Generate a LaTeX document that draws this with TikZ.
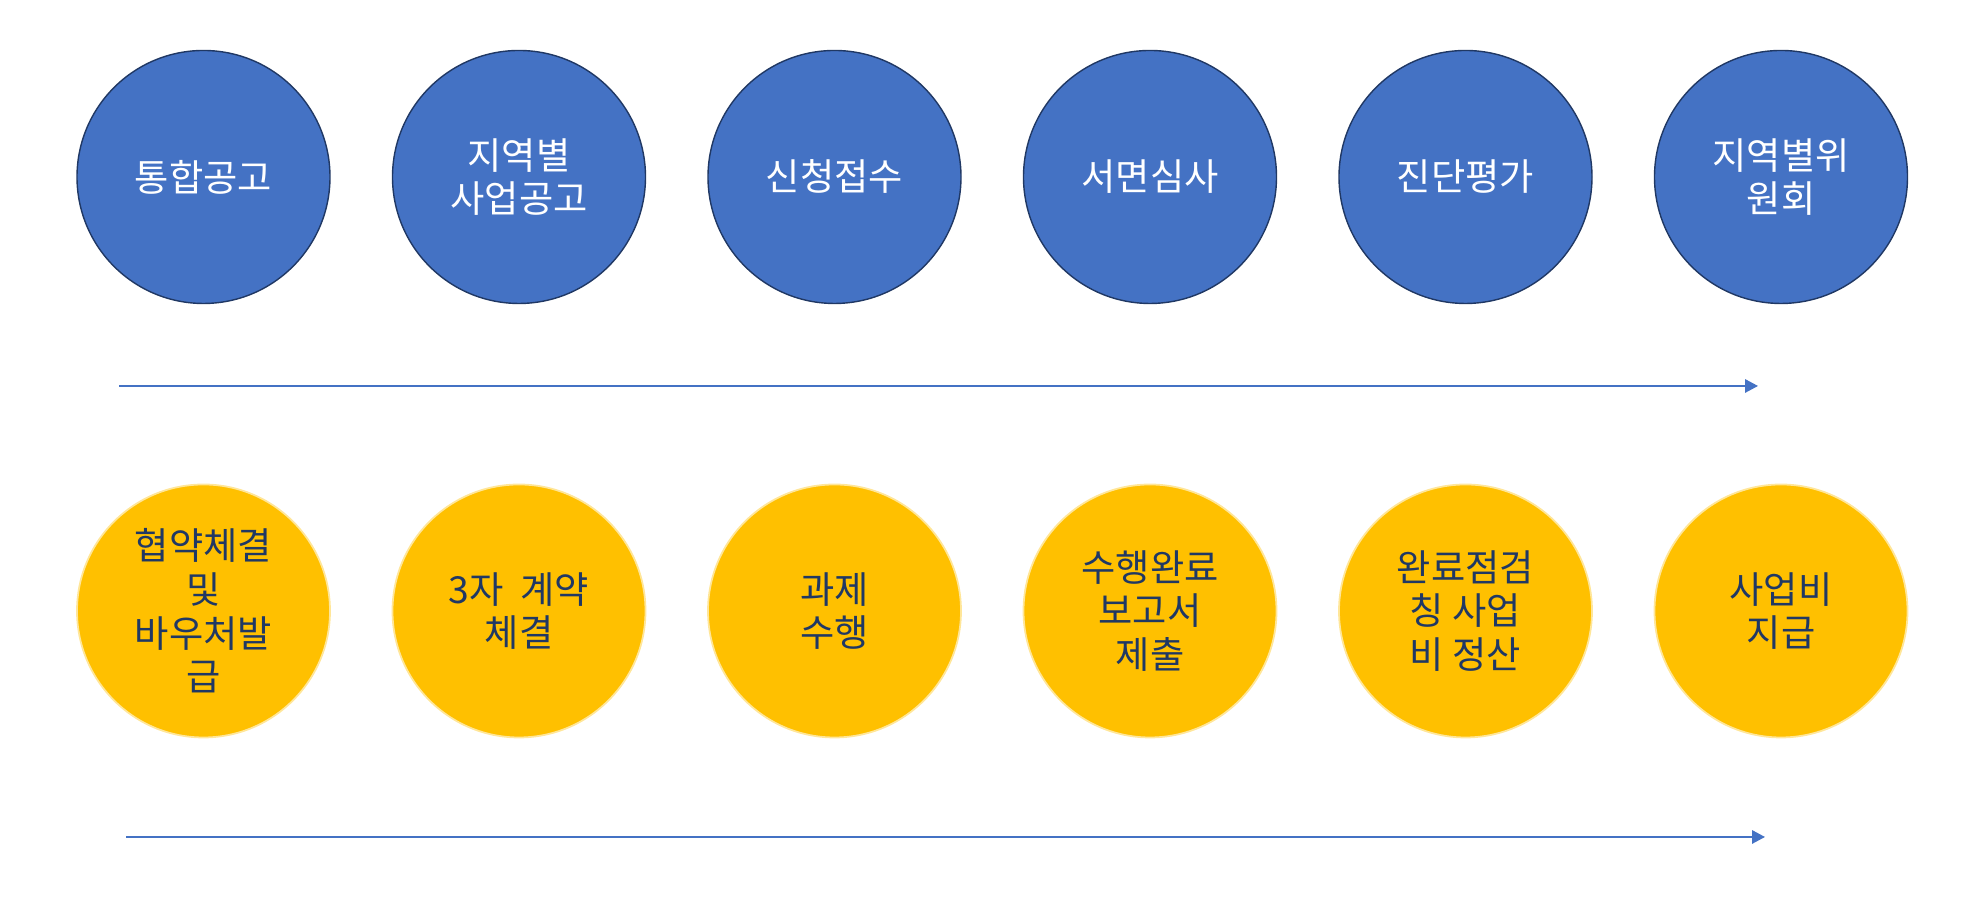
\documentclass[tikz,border=0pt]{standalone}
\usepackage{fontspec}
\setmainfont{Noto Sans CJK KR}
\usepackage{xcolor}
\usetikzlibrary{arrows.meta,positioning}
\definecolor{stepblue}{RGB}{68,114,196}
\definecolor{stepline}{RGB}{32,56,100}
\definecolor{stepgold}{RGB}{255,192,0}
\definecolor{goldline}{RGB}{255,230,153}
\definecolor{goldtext}{RGB}{32,56,100}

\begin{document}
\begin{tikzpicture}[
  every node/.style={font=\fontsize{10.6}{12.4}\selectfont},
  apply/.style={circle,draw=stepline,fill=stepblue,line width=0.4pt,minimum size=2.53cm,inner sep=0pt,align=center,text=white},
  run/.style={circle,draw=goldline,fill=stepgold,line width=0.5pt,minimum size=2.53cm,inner sep=0pt,align=center,text=goldtext},
  ar/.style={-{Triangle[length=1.3mm,width=1.35mm]},stepblue,line width=0.45pt}]
\useasboundingbox (0,0) rectangle (19.82,9.22);
\node[apply] (a1) at (2.035,7.45) {통합공고};
\node[apply] (a2) at (5.19,7.45) {지역별\\사업공고};
\node[apply] (a3) at (8.345,7.45) {신청접수};
\node[apply] (a4) at (11.50,7.45) {서면심사};
\node[apply] (a5) at (14.655,7.45) {진단평가};
\node[apply] (a6) at (17.81,7.45) {지역별위\\원회};
\coordinate (s1) at (1.19,5.36);
\coordinate (e1) at (17.58,5.36);
\draw[ar] (s1) -- (e1);
\node[run] (b1) at (2.035,3.11) {협약체결\\및\\바우처발\\급};
\node[run] (b2) at (5.19,3.11) {3자\ \ 계약\\체결};
\node[run] (b3) at (8.345,3.11) {과제\\수행};
\node[run] (b4) at (11.50,3.11) {수행완료\\보고서\\제출};
\node[run] (b5) at (14.655,3.11) {완료점검\\칭 사업\\비 정산};
\node[run] (b6) at (17.81,3.11) {사업비\\지급};
\coordinate (s2) at (1.26,0.85);
\coordinate (e2) at (17.65,0.85);
\draw[ar] (s2) -- (e2);
\end{tikzpicture}
\end{document}
